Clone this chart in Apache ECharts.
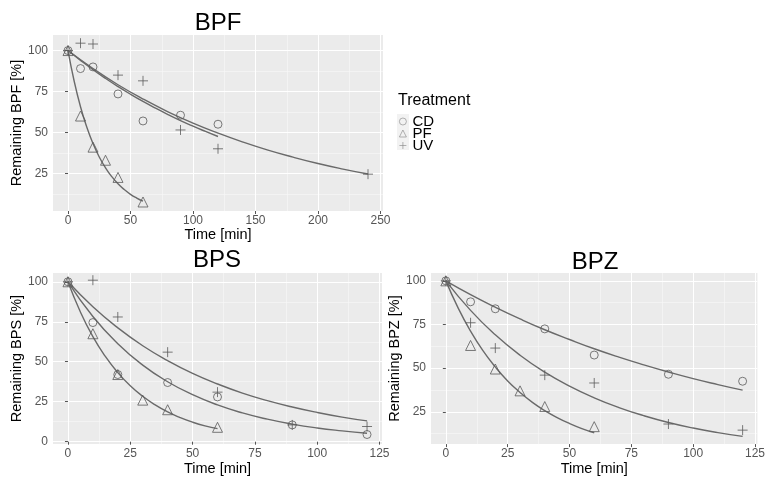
<!DOCTYPE html>
<html><head><meta charset="utf-8">
<script src="https://cdn.jsdelivr.net/npm/echarts@6/dist/echarts.min.js"></script>
<style>html,body{margin:0;padding:0;background:#fff}#c{width:768px;height:477px}</style>
</head><body><div id="c"></div>
<script>
// ---------- DATA ----------
const treatments = ['CD', 'PF', 'UV'];
const panelTitles = ['BPF', 'BPS', 'BPZ'];

// BPF measured points
const bpfCdT = [0, 10, 20, 40, 60, 90, 120];
const bpfCdV = [100, 89, 90, 73.5, 57, 60.5, 55];
const bpfPfT = [0, 10, 20, 30, 40, 60];
const bpfPfV = [100, 60, 41, 33, 22.5, 7.5];
const bpfUvT = [0, 10, 20, 40, 60, 90, 120, 240];
const bpfUvV = [100, 104.5, 104, 85, 81.5, 51.5, 40, 24.5];

// BPS measured points
const bpsCdT = [0, 10, 20, 40, 60, 90, 120];
const bpsCdV = [100, 74.5, 42, 37, 28, 10.5, 4.5];
const bpsPfT = [0, 10, 20, 30, 40, 60];
const bpsPfV = [100, 67.5, 42, 26, 20, 9];
const bpsUvT = [0, 10, 20, 40, 60, 90, 120];
const bpsUvV = [100, 101, 78, 56, 31, 10.5, 9.5];

// BPZ measured points
const bpzCdT = [0, 10, 20, 40, 60, 90, 120];
const bpzCdV = [100, 88, 84, 72.5, 57.5, 46.5, 42.5];
const bpzPfT = [0, 10, 20, 30, 40, 60];
const bpzPfV = [100, 63, 49.5, 37, 28, 16.5];
const bpzUvT = [0, 10, 20, 40, 60, 90, 120];
const bpzUvV = [100, 76, 61.5, 46, 41.5, 18, 14.5];

// fitted curves
const fitT120 = [0, 10, 20, 30, 40, 50, 60, 70, 80, 90, 100, 110, 120];
const fitT60 = [0, 5, 10, 15, 20, 25, 30, 35, 40, 45, 50, 55, 60];
const fitT240 = [0, 20, 40, 60, 80, 100, 120, 140, 160, 180, 200, 220, 240];

const bpfCdFit = [100, 94.0, 88.3, 83.0, 78.0, 73.3, 68.9, 64.8, 60.9, 57.2, 53.8, 50.6, 47.5];
const bpfPfFit = [100, 81.1, 65.7, 53.3, 43.2, 35.0, 28.4, 23.0, 18.6, 15.1, 12.2, 9.9, 8.0];
const bpfUvFit = [100, 89.0, 79.1, 70.4, 62.6, 55.7, 49.6, 44.1, 39.2, 34.9, 31.0, 27.6, 24.6];

const bpsCdFit = [100, 78.3, 61.3, 47.9, 37.5, 29.4, 23.0, 18.0, 14.1, 11.0, 8.6, 6.8, 5.3];
const bpsPfFit = [100, 81.1, 65.7, 53.3, 43.2, 35.0, 28.4, 23.0, 18.6, 15.1, 12.2, 9.9, 8.2];
const bpsUvFit = [100, 84.4, 71.2, 60.0, 50.7, 42.7, 36.1, 30.4, 25.7, 21.7, 18.3, 15.4, 13.0];

const bpzCdFit = [100, 92.1, 84.9, 78.2, 72.0, 66.4, 61.1, 56.3, 51.9, 47.8, 44.0, 40.6, 37.4];
const bpzPfFit = [100, 84.4, 71.2, 60.0, 50.7, 42.7, 36.1, 30.4, 25.7, 21.7, 18.3, 15.4, 13.0];
const bpzUvFit = [100, 83.1, 69.1, 57.4, 47.7, 39.7, 33.0, 27.4, 22.8, 18.9, 15.7, 13.1, 10.9];

// tick labels
const bpfXTicks = [0, 50, 100, 150, 200, 250];
const bpfXMinor = [25, 75, 125, 175, 225];
const bpfYTicks = [25, 50, 75, 100];
const bpfYMinor = [12.5, 37.5, 62.5, 87.5];
const bpsXTicks = [0, 25, 50, 75, 100, 125];
const bpsXMinor = [12.5, 37.5, 62.5, 87.5, 112.5];
const bpsYTicks = [0, 25, 50, 75, 100];
const bpsYMinor = [12.5, 37.5, 62.5, 87.5];
const bpzXTicks = [0, 25, 50, 75, 100, 125];
const bpzXMinor = [12.5, 37.5, 62.5, 87.5, 112.5];
const bpzYTicks = [25, 50, 75, 100];
const bpzYMinor = [12.5, 37.5, 62.5, 87.5];

// ---------- CHART ----------
const FONT = 'Liberation Sans, Arial, sans-serif';
const PT = '#5a5a5a';
const LN = '#6a6a6a';
const plusPath = 'path://M0,5 L10,5 M5,0 L5,10';
const symbols = { CD: 'circle', PF: 'triangle', UV: plusPath };
const sizes = { CD: 8, PF: 10, UV: 10 };

const zip = (t, v) => t.map((x, i) => [x, v[i]]);

const grids = [
  { left: 53, top: 35, width: 330, height: 176 },
  { left: 53, top: 273, width: 329, height: 176 },
  { left: 431, top: 273, width: 329, height: 175 }
].map(g => Object.assign(g, { show: true, backgroundColor: '#EBEBEB', borderWidth: 0 }));

const xRanges = [[-12, 252], [-6, 126], [-6, 126]];
const yRanges = [[2, 109.5], [-1.5, 105.5], [6.5, 104.5]];
const xTicks = [bpfXTicks, bpsXTicks, bpzXTicks];
const xMinor = [bpfXMinor, bpsXMinor, bpzXMinor];
const yTicks = [bpfYTicks, bpsYTicks, bpzYTicks];
const yMinor = [bpfYMinor, bpsYMinor, bpzYMinor];

function mainAxis(dim, i) {
  const r = dim === 'x' ? xRanges[i] : yRanges[i];
  const t = dim === 'x' ? xTicks[i] : yTicks[i];
  return {
    type: 'value', gridIndex: i, min: r[0], max: r[1],
    position: dim === 'x' ? 'bottom' : 'left',
    name: dim === 'x' ? 'Time [min]' : 'Remaining ' + panelTitles[i] + ' [%]',
    nameLocation: 'middle',
    nameGap: dim === 'x' ? 16 : 29,
    nameTextStyle: { fontSize: 14.5, color: '#000', fontFamily: FONT },
    axisLine: { show: false },
    axisTick: { show: true, length: 3, lineStyle: { color: '#555', width: 1 }, customValues: t },
    axisLabel: { show: true, customValues: t, fontSize: 12, color: '#555', fontFamily: FONT, margin: dim === 'x' ? 4 : 5 },
    splitLine: { show: true, lineStyle: { color: '#ffffff', width: 1 } },
    z: 2
  };
}
function minorAxis(dim, i) {
  const r = dim === 'x' ? xRanges[i] : yRanges[i];
  const t = dim === 'x' ? xMinor[i] : yMinor[i];
  return {
    type: 'value', gridIndex: i, min: r[0], max: r[1],
    position: dim === 'x' ? 'bottom' : 'left',
    axisLine: { show: false },
    axisTick: { show: false, customValues: t },
    axisLabel: { show: false, customValues: t },
    splitLine: { show: true, lineStyle: { color: '#f8f8f8', width: 0.6 } },
    z: 1
  };
}

const xAxis = [0, 1, 2].map(i => mainAxis('x', i)).concat([0, 1, 2].map(i => minorAxis('x', i)));
const yAxis = [0, 1, 2].map(i => mainAxis('y', i)).concat([0, 1, 2].map(i => minorAxis('y', i)));

const pts = [
  { CD: zip(bpfCdT, bpfCdV), PF: zip(bpfPfT, bpfPfV), UV: zip(bpfUvT, bpfUvV) },
  { CD: zip(bpsCdT, bpsCdV), PF: zip(bpsPfT, bpsPfV), UV: zip(bpsUvT, bpsUvV) },
  { CD: zip(bpzCdT, bpzCdV), PF: zip(bpzPfT, bpzPfV), UV: zip(bpzUvT, bpzUvV) }
];
const fits = [
  [zip(fitT120, bpfCdFit), zip(fitT60, bpfPfFit), zip(fitT240, bpfUvFit)],
  [zip(fitT120, bpsCdFit), zip(fitT60, bpsPfFit), zip(fitT120, bpsUvFit)],
  [zip(fitT120, bpzCdFit), zip(fitT60, bpzPfFit), zip(fitT120, bpzUvFit)]
];

const series = [];
for (let i = 0; i < 3; i++) {
  fits[i].forEach((d, j) => series.push({
    type: 'line', name: treatments[j] + ' fit', xAxisIndex: i, yAxisIndex: i,
    data: d, smooth: true, showSymbol: false, symbol: 'none',
    lineStyle: { color: LN, width: 1.4 }, z: 3, silent: true
  }));
  treatments.forEach(tr => series.push({
    type: 'scatter', name: tr, xAxisIndex: i, yAxisIndex: i,
    data: pts[i][tr], symbol: symbols[tr], symbolSize: sizes[tr],
    itemStyle: { color: 'rgba(0,0,0,0)', borderColor: PT, borderWidth: 1 }, z: 4
  }));
}

const option = {
  animation: false,
  backgroundColor: '#ffffff',
  textStyle: { fontFamily: FONT },
  title: [
    { text: panelTitles[0], left: 218, top: 11, textAlign: 'center', padding: 0, textStyle: { fontSize: 24, fontWeight: 'normal', color: '#000', fontFamily: FONT } },
    { text: panelTitles[1], left: 217, top: 248, textAlign: 'center', padding: 0, textStyle: { fontSize: 24, fontWeight: 'normal', color: '#000', fontFamily: FONT } },
    { text: panelTitles[2], left: 595, top: 250, textAlign: 'center', padding: 0, textStyle: { fontSize: 24, fontWeight: 'normal', color: '#000', fontFamily: FONT } },
    { text: 'Treatment', left: 398, top: 93, padding: 0, textStyle: { fontSize: 16, fontWeight: 'normal', color: '#000', fontFamily: FONT } }
  ],
  graphic: [
    { type: 'rect', left: 397, top: 114, shape: { width: 12, height: 36 }, style: { fill: '#F2F2F2' }, silent: true, z: -1 }
  ],
  legend: {
    orient: 'vertical', left: 399, top: 114, padding: 0, itemGap: -3,
    itemWidth: 7, itemHeight: 7, data: treatments,
    itemStyle: { borderWidth: 0.8, borderColor: '#888', color: 'rgba(0,0,0,0)' },
    textStyle: { fontSize: 15, color: '#000', lineHeight: 12, fontFamily: FONT, padding: [0, 0, 0, 1] },
    selectedMode: false
  },
  grid: grids,
  xAxis: xAxis,
  yAxis: yAxis,
  series: series
};
const chart = echarts.init(document.getElementById('c'));
chart.setOption(option);
</script></body></html>
